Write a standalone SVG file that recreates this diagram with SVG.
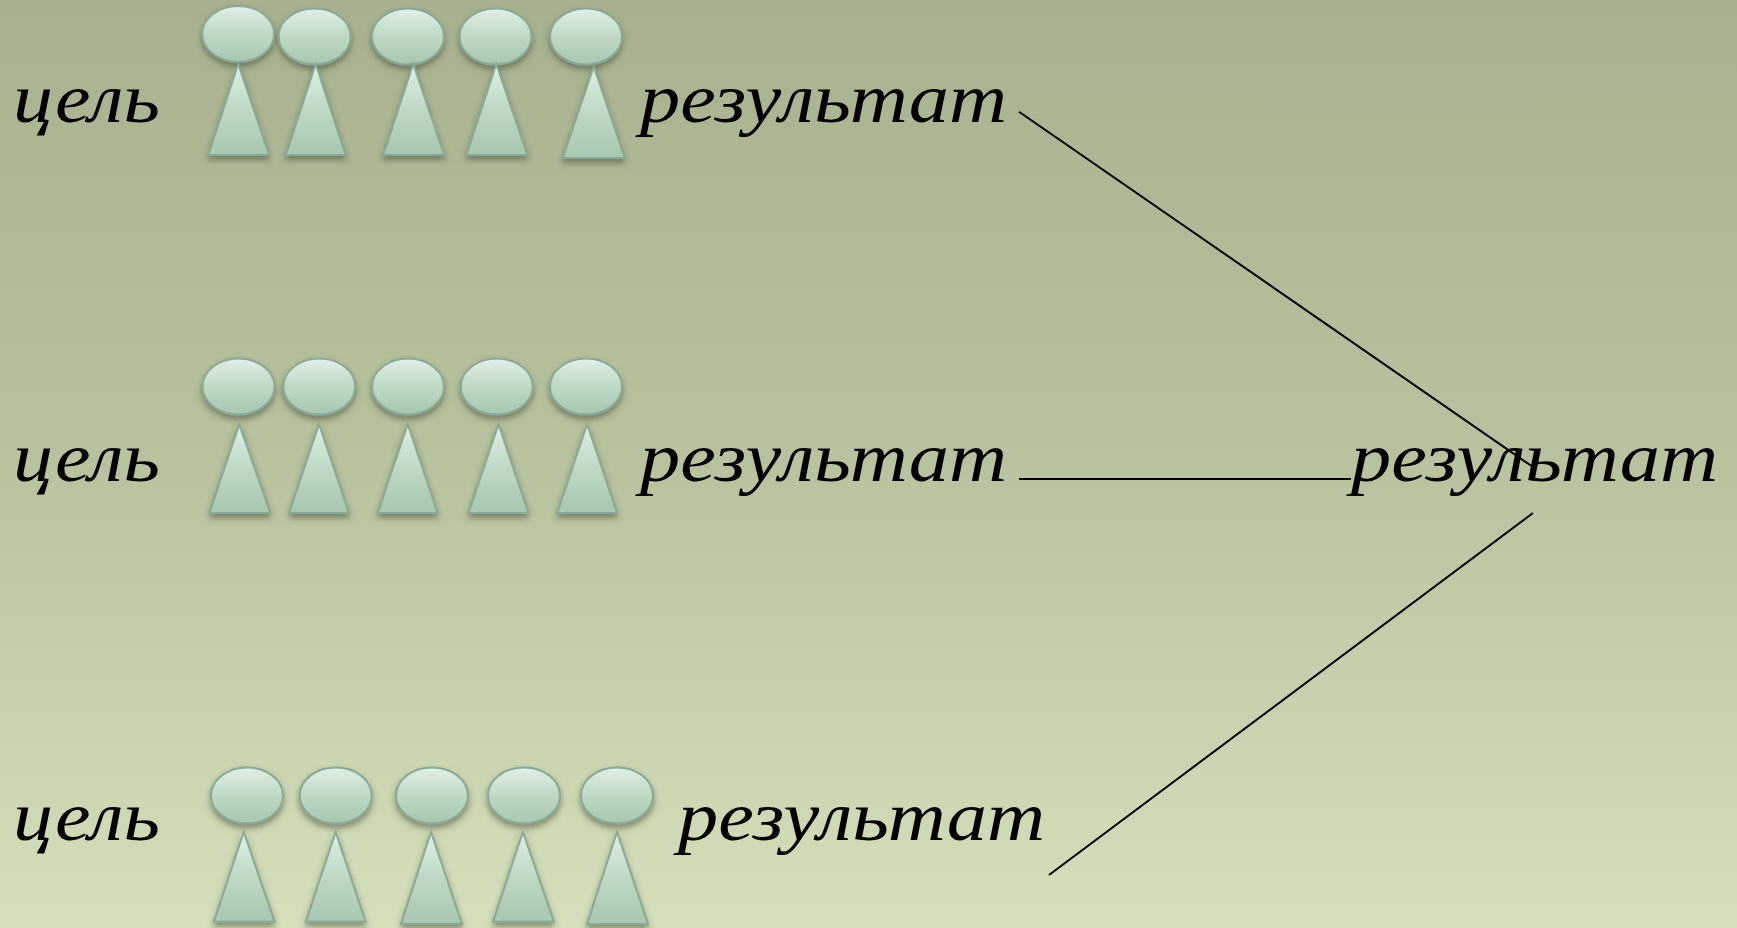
<svg xmlns="http://www.w3.org/2000/svg" width="1737" height="928" viewBox="0 0 1737 928">
<style>
.h{fill:url(#fig);stroke:#8aa896;stroke-width:2;filter:url(#sh)}
.t{font-family:"Liberation Serif","DejaVu Serif",serif;font-style:italic;font-size:70px;fill:#000}
.c{stroke:#000;stroke-width:2;fill:none}
</style>
<defs>
<linearGradient id="bg" x1="0" y1="0" x2="0" y2="1"><stop offset="0" stop-color="#a8b18f"/><stop offset="0.5" stop-color="#b8c29e"/><stop offset="1" stop-color="#d5dfbb"/></linearGradient>
<linearGradient id="fig" x1="0" y1="0" x2="0" y2="1"><stop offset="0" stop-color="#dff0e5"/><stop offset="0.5" stop-color="#bfd8c4"/><stop offset="1" stop-color="#a8c6b0"/></linearGradient>
<filter id="sh" x="-30%" y="-30%" width="160%" height="160%"><feDropShadow dx="0" dy="4" stdDeviation="3" flood-color="#3c4a38" flood-opacity="0.55"/></filter>
</defs>
<rect id="background" width="1737" height="928" fill="url(#bg)"/>
<g id="connectors">
<line class="c" x1="1019" y1="111.7" x2="1533" y2="467"/>
<line class="c" x1="1019" y1="479" x2="1351" y2="479"/>
<line class="c" x1="1049" y1="875" x2="1533" y2="513"/>
</g>
<g id="row1">
<g id="r1-goal"><text class="t" x="13" y="122" textLength="147" lengthAdjust="spacingAndGlyphs">цель</text></g>
<g id="r1-p1"><ellipse class="h" cx="238.2" cy="34" rx="36" ry="28"/><polygon class="h" points="238.2,64 208.3,155 269.2,155"/></g>
<g id="r1-p2"><ellipse class="h" cx="314.6" cy="36.6" rx="36" ry="28"/><polygon class="h" points="315.7,64 285.8,155 345.6,155"/></g>
<g id="r1-p3"><ellipse class="h" cx="408" cy="36.6" rx="36" ry="28"/><polygon class="h" points="413.2,64 383.3,155 444.2,155"/></g>
<g id="r1-p4"><ellipse class="h" cx="495.5" cy="36.6" rx="36" ry="28"/><polygon class="h" points="496.3,64 466.4,155 527.3,155"/></g>
<g id="r1-p5"><ellipse class="h" cx="586" cy="36.6" rx="36" ry="28"/><polygon class="h" points="593.8,66.5 562.8,158 624.8,158"/></g>
<g id="r1-result"><text class="t" x="640" y="122" textLength="367" lengthAdjust="spacingAndGlyphs">результат</text></g>
</g>
<g id="row2">
<g id="r2-goal"><text class="t" x="13" y="480.8" textLength="147" lengthAdjust="spacingAndGlyphs">цель</text></g>
<g id="r2-p1"><ellipse class="h" cx="238.5" cy="386.6" rx="36" ry="28"/><polygon class="h" points="239.3,424.3 209.4,513 270.3,513"/></g>
<g id="r2-p2"><ellipse class="h" cx="319.3" cy="386.6" rx="36" ry="28"/><polygon class="h" points="319,424.3 289.1,513 349,513"/></g>
<g id="r2-p3"><ellipse class="h" cx="408" cy="386.6" rx="36" ry="28"/><polygon class="h" points="407.7,424.3 377.8,513 437.6,513"/></g>
<g id="r2-p4"><ellipse class="h" cx="496.8" cy="386.6" rx="36" ry="28"/><polygon class="h" points="498.5,424.3 468.6,513 528.4,513"/></g>
<g id="r2-p5"><ellipse class="h" cx="586" cy="386.6" rx="36" ry="28"/><polygon class="h" points="587.1,424.3 557.2,513 617,513"/></g>
<g id="r2-result"><text class="t" x="640" y="480.8" textLength="367" lengthAdjust="spacingAndGlyphs">результат</text></g>
</g>
<g id="row3">
<g id="r3-goal"><text class="t" x="13" y="839.7" textLength="147" lengthAdjust="spacingAndGlyphs">цель</text></g>
<g id="r3-p1"><ellipse class="h" cx="247" cy="795.4" rx="36" ry="28"/><polygon class="h" points="243.7,832 213.8,921.7 274.7,921.7"/></g>
<g id="r3-p2"><ellipse class="h" cx="335.7" cy="795.4" rx="36" ry="28"/><polygon class="h" points="335.7,832 305.8,921.7 365.6,921.7"/></g>
<g id="r3-p3"><ellipse class="h" cx="432" cy="795.4" rx="36" ry="28"/><polygon class="h" points="431,832 401,924 462,924"/></g>
<g id="r3-p4"><ellipse class="h" cx="524" cy="795.4" rx="36" ry="28"/><polygon class="h" points="522.9,832 493,921.7 553.9,921.7"/></g>
<g id="r3-p5"><ellipse class="h" cx="617" cy="795.4" rx="36" ry="28"/><polygon class="h" points="617,832 587.1,924 648,924"/></g>
<g id="r3-result"><text class="t" x="678" y="839.7" textLength="367" lengthAdjust="spacingAndGlyphs">результат</text></g>
</g>
<g id="total-result"><text class="t" x="1351" y="480.8" textLength="367" lengthAdjust="spacingAndGlyphs">результат</text></g>
</svg>
